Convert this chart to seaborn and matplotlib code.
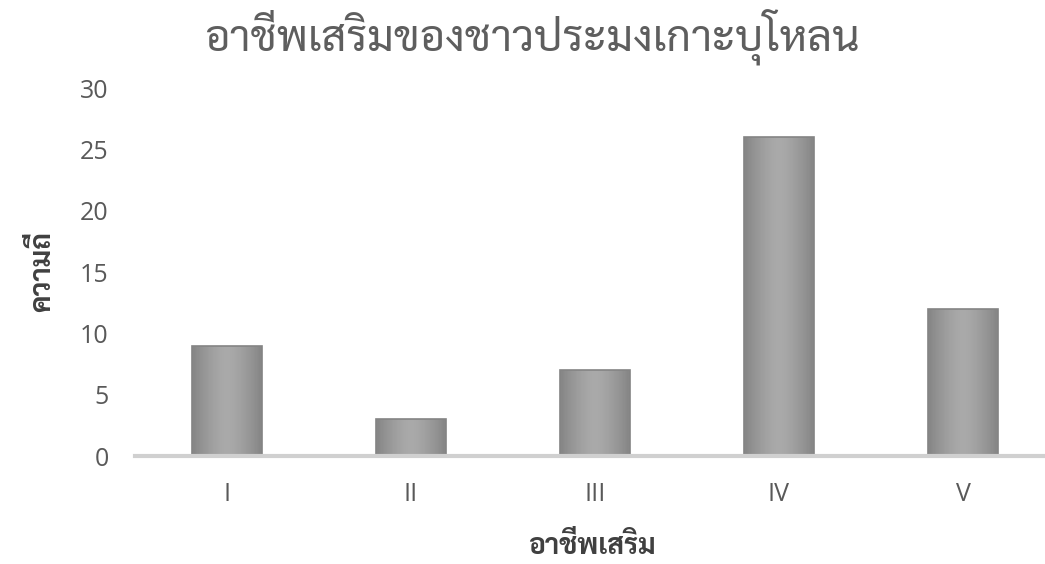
import matplotlib
matplotlib.use("Agg")
import matplotlib.pyplot as plt
import numpy as np
import pandas as pd
import seaborn as sns

# Data
categories = ["I", "II", "III", "IV", "V"]
counts = [9, 3, 7, 26, 12]
title_text = "อาชีพเสริมของชาวประมงเกาะบุโหลน"
xlabel_text = "อาชีพเสริม"
ylabel_text = "ความถี่"
yticks = [0, 5, 10, 15, 20, 25, 30]

sns.set_theme(style="white")
plt.rcParams["font.family"] = ["Open Sans", "DejaVu Sans"]
thai_family = ["Sarabun", "DejaVu Sans"]

df = pd.DataFrame({"cat": categories, "count": counts})

W, H = 1045, 564
fig = plt.figure(figsize=(W / 100, H / 100), dpi=100)
ax = fig.add_axes([135 / W, 1 - 456 / H, 1 - 135 / W, (456 - 88) / H])

sns.barplot(data=df, x="cat", y="count", ax=ax, color="#a2a2a2",
            width=0.38, saturation=1, edgecolor="#848484", linewidth=1.2)

# soft shading inside each bar: slightly darker toward the sides
grad = np.linspace(-1, 1, 64)
shade_img = np.tile(np.abs(grad) ** 1.5, (2, 1))
for patch in ax.patches:
    x0, y0 = patch.get_x(), patch.get_y()
    w, h = patch.get_width(), patch.get_height()
    im = ax.imshow(shade_img, cmap="Greys", vmin=-3.2, vmax=3.4,
                   extent=[x0, x0 + w, y0, y0 + h], aspect="auto",
                   interpolation="bicubic", zorder=patch.get_zorder() + 0.1,
                   alpha=0.85)
    im.set_clip_path(patch)
    patch.set_zorder(patch.get_zorder() + 0.2)
    patch.set_facecolor("none")

ax.set_xlim(-0.5, 4.446)
ax.set_ylim(0, 30)
ax.set_yticks(yticks)
ax.set_yticklabels([str(v) for v in yticks])

for s in ["top", "right", "left"]:
    ax.spines[s].set_visible(False)
ax.spines["bottom"].set_color("#d0d0d0")
ax.spines["bottom"].set_linewidth(3)
ax.tick_params(axis="both", length=0, labelsize=18, colors="#595959")
ax.tick_params(axis="x", pad=19)
ax.tick_params(axis="y", pad=19)
ax.grid(False)

ax.set_xlabel(xlabel_text, fontsize=17, fontweight="bold", color="#404040",
              family=thai_family)
ax.set_ylabel(ylabel_text, fontsize=17, fontweight="bold", color="#404040",
              family=thai_family)

title = fig.text(0.509, 1 - 38 / H, title_text, ha="center", va="center",
                 fontsize=30, fontweight="normal", color="#5e5e5e",
                 family=thai_family)

# fit text sizes to the intended widths in pixels
fig.canvas.draw()
renderer = fig.canvas.get_renderer()
for txt, target in [(title, 655), (ax.xaxis.label, 128)]:
    width = txt.get_window_extent(renderer).width
    txt.set_fontsize(txt.get_fontsize() * target / width)
ax.yaxis.label.set_fontsize(ax.xaxis.label.get_fontsize())

ax.xaxis.set_label_coords((592 - 135) / (W - 135), -(546 - 456) / (456 - 88))
ax.xaxis.label.set_va("center")
ax.yaxis.set_label_coords(-(135 - 42) / (W - 135), 0.5)
ax.yaxis.label.set_va("center")

fig.savefig("out.png", dpi=100)
